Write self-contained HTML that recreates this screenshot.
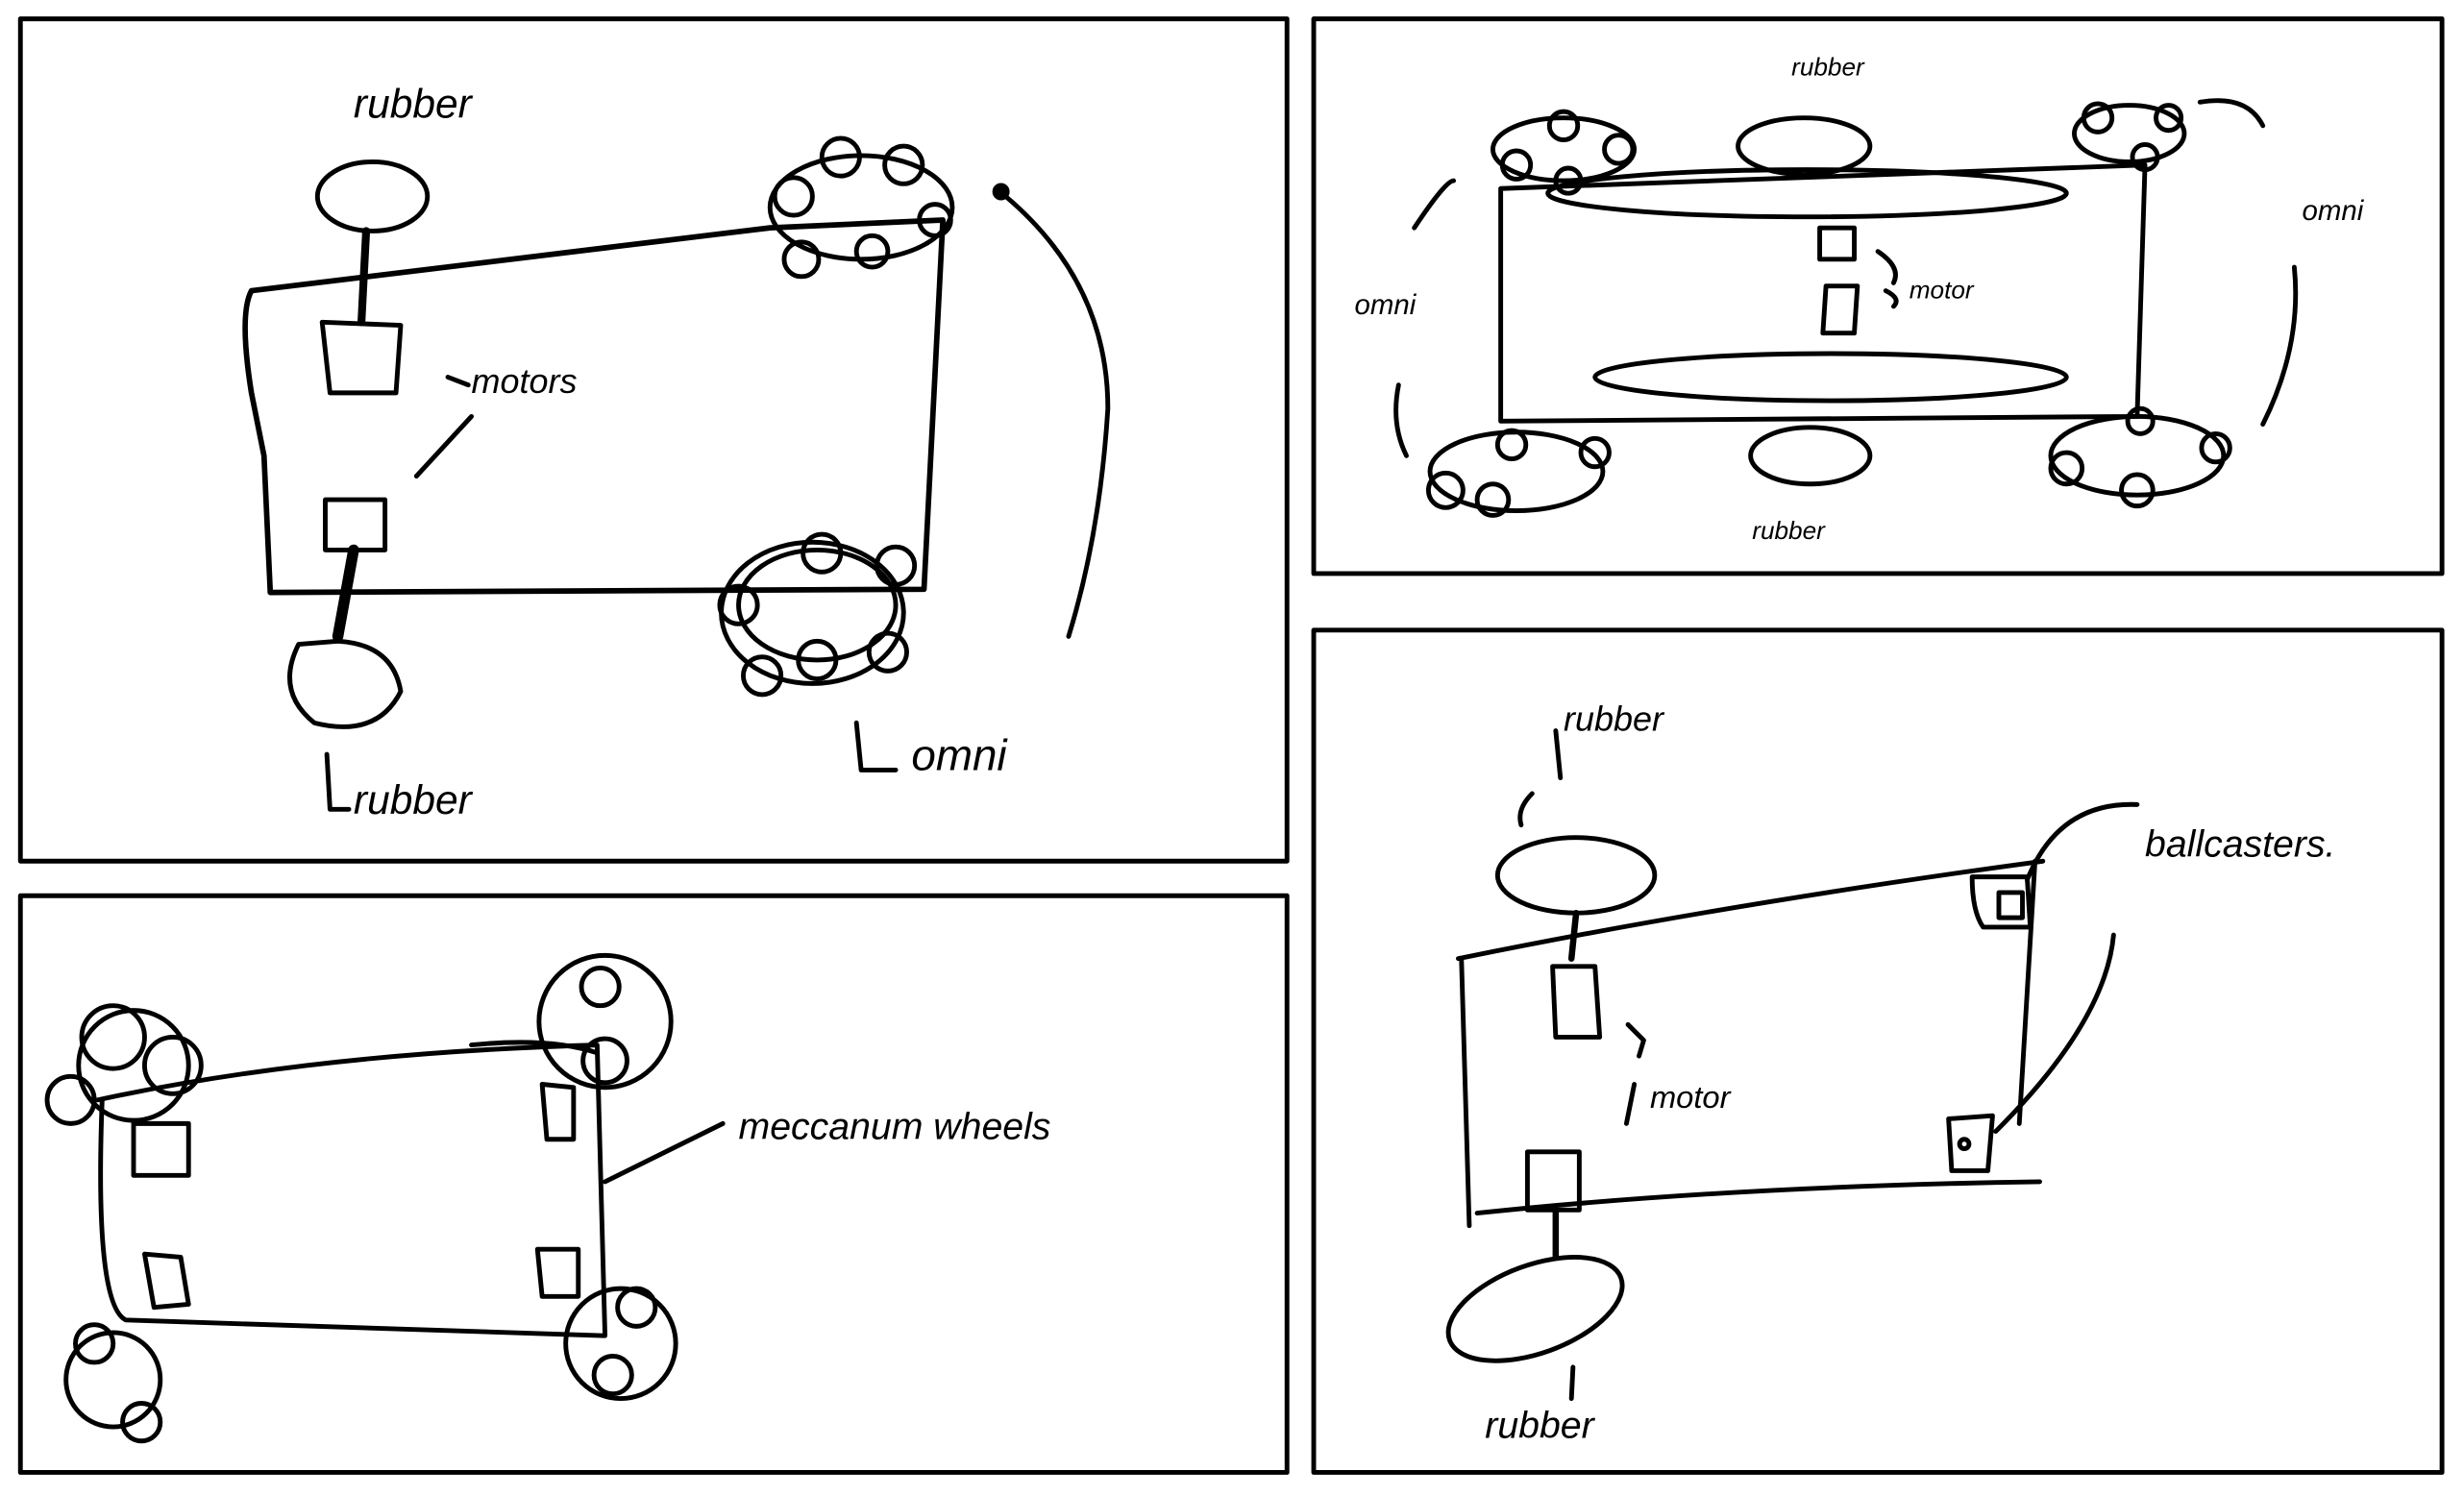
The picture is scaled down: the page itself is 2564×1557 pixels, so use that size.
<!DOCTYPE html>
<html><head><style>html,body{margin:0;padding:0;background:#fff}svg{display:block}</style></head><body>
<svg width="2564" height="1557" viewBox="0 0 1568 952" preserveAspectRatio="none" xmlns="http://www.w3.org/2000/svg">
<g fill="none" stroke="#000" stroke-width="3" stroke-linecap="round" stroke-linejoin="round">
<rect x="13" y="12" width="806" height="536"/>
<rect x="13" y="570" width="806" height="367"/>
<rect x="836" y="12" width="718" height="353"/>
<rect x="836" y="401" width="718" height="536"/>

<!-- Panel 1 -->
<path d="M160,185 L490,145 L600,140 L588,375 L172,377 L168,290 L160,250 Q152,200 160,185" stroke-width="3.5"/>
<ellipse cx="237" cy="125" rx="35" ry="22"/>
<path d="M233,147 L230,205" stroke-width="5"/>
<path d="M205,205 L255,207 L252,250 L210,250 Z"/>
<path d="M285,240 L298,245"/>
<path d="M265,303 L300,265"/>
<rect x="207" y="318" width="38" height="32"/>
<path d="M225,350 L215,405" stroke-width="7"/>
<path d="M190,410 Q175,440 200,460 Q240,470 255,440 Q250,410 215,408 Z"/>
<path d="M208,480 L210,515 L222,515"/>
<ellipse cx="548" cy="132" rx="58" ry="33"/>
<circle cx="505" cy="125" r="12"/><circle cx="535" cy="100" r="12"/><circle cx="575" cy="105" r="12"/><circle cx="595" cy="140" r="10"/><circle cx="555" cy="160" r="10"/><circle cx="510" cy="165" r="11"/>
<ellipse cx="517" cy="390" rx="58" ry="45"/>
<ellipse cx="520" cy="385" rx="50" ry="35"/>
<circle cx="470" cy="385" r="12"/><circle cx="523" cy="352" r="12"/><circle cx="570" cy="360" r="12"/><circle cx="565" cy="415" r="12"/><circle cx="520" cy="420" r="12"/><circle cx="485" cy="430" r="12"/>
<path d="M680,405 Q700,340 705,260 Q705,180 640,125"/>
<circle cx="637" cy="122" r="4" fill="#000"/>
<path d="M545,460 L548,490 L570,490"/>

<!-- Panel 2 -->
<path d="M62,700 Q200,670 380,665 L385,850 L80,840 Q60,830 65,700" />
<path d="M300,665 Q350,660 380,670"/>
<circle cx="85" cy="678" r="35"/><circle cx="72" cy="660" r="20"/><circle cx="110" cy="678" r="18"/><circle cx="45" cy="700" r="15"/>
<circle cx="385" cy="650" r="42"/><circle cx="382" cy="628" r="12"/><circle cx="385" cy="675" r="14"/>
<circle cx="395" cy="855" r="35"/><circle cx="405" cy="832" r="12"/><circle cx="390" cy="875" r="12"/>
<circle cx="72" cy="878" r="30"/><circle cx="60" cy="855" r="12"/><circle cx="90" cy="905" r="12"/>
<rect x="85" y="715" width="35" height="33"/>
<path d="M92,798 L115,800 L120,830 L98,832 Z"/>
<path d="M345,690 L365,692 L365,725 L348,725 Z"/>
<path d="M342,795 L368,795 L368,825 L345,825 Z"/>
<path d="M385,752 L460,715"/>

<!-- Panel 3 -->
<path d="M955,120 L1365,105 L1360,265 L955,268 Z"/>
<ellipse cx="1150" cy="123" rx="165" ry="15"/>
<ellipse cx="1165" cy="240" rx="150" ry="15"/>
<ellipse cx="1148" cy="93" rx="42" ry="18"/>
<ellipse cx="1152" cy="290" rx="38" ry="18"/>
<ellipse cx="995" cy="95" rx="45" ry="20"/><circle cx="965" cy="105" r="9"/><circle cx="995" cy="80" r="9"/><circle cx="1030" cy="95" r="9"/><circle cx="998" cy="115" r="8"/>
<ellipse cx="1355" cy="85" rx="35" ry="18"/><circle cx="1335" cy="75" r="9"/><circle cx="1380" cy="75" r="8"/><circle cx="1365" cy="100" r="8"/>
<ellipse cx="965" cy="300" rx="55" ry="25"/><circle cx="920" cy="312" r="11"/><circle cx="962" cy="283" r="9"/><circle cx="1015" cy="288" r="9"/><circle cx="950" cy="318" r="10"/>
<ellipse cx="1360" cy="290" rx="55" ry="25"/><circle cx="1315" cy="298" r="10"/><circle cx="1362" cy="268" r="8"/><circle cx="1410" cy="285" r="9"/><circle cx="1360" cy="312" r="10"/>
<rect x="1158" y="145" width="22" height="20"/>
<path d="M1162,182 L1182,182 L1180,212 L1160,212 Z"/>
<path d="M1195,160 Q1210,170 1205,180 M1200,185 Q1210,190 1205,195"/>
<path d="M900,145 Q920,115 925,115 M1400,65 Q1430,60 1440,80 M1460,170 Q1465,220 1440,270 M890,245 Q885,270 895,290"/>

<!-- Panel 4 -->
<path d="M928,610 Q1100,575 1300,548 M930,610 L935,780 M940,772 Q1100,755 1298,752 M1295,548 L1285,715"/>
<ellipse cx="1003" cy="557" rx="50" ry="24"/>
<path d="M1003,581 L1000,610" stroke-width="4"/>
<path d="M988,615 L1015,615 L1018,660 L990,660 Z"/>
<rect x="972" y="733" width="33" height="37"/>
<path d="M990,770 L990,800" stroke-width="4"/>
<ellipse cx="977" cy="833" rx="58" ry="28" transform="rotate(-20 977 833)"/>
<path d="M1001,870 L1000,890" stroke-width="3"/>
<path d="M1255,558 L1290,558 L1292,590 L1262,590 Q1255,580 1255,558 Z M1272,568 L1287,568 L1287,584 L1272,584 Z"/>
<path d="M1240,712 L1268,710 L1265,745 L1242,745 Z"/>
<circle cx="1250" cy="728" r="3"/>
<path d="M1290,560 Q1310,510 1360,512 M1270,720 Q1340,650 1345,595"/>
<path d="M975,505 Q965,515 968,525 M990,465 L993,495 M1036,652 L1046,662 L1043,672 M1040,690 L1035,715"/>
</g>
<g font-family="Liberation Sans, sans-serif" font-size="20" fill="#000" font-style="italic">
<text x="225" y="75" font-size="26">rubber</text>
<text x="300" y="250" font-size="22">motors</text>
<text x="225" y="518" font-size="26">rubber</text>
<text x="580" y="490" font-size="28">omni</text>
<text x="470" y="725" font-size="24">meccanum wheels</text>
<text x="1140" y="48" font-size="16">rubber</text>
<text x="1215" y="190" font-size="16">motor</text>
<text x="1465" y="140" font-size="18">omni</text>
<text x="862" y="200" font-size="18">omni</text>
<text x="1115" y="343" font-size="16">rubber</text>
<text x="995" y="465" font-size="22">rubber</text>
<text x="1050" y="705" font-size="20">motor</text>
<text x="945" y="915" font-size="24">rubber</text>
<text x="1365" y="545" font-size="24">ballcasters.</text>
</g>
</svg>
</body></html>
